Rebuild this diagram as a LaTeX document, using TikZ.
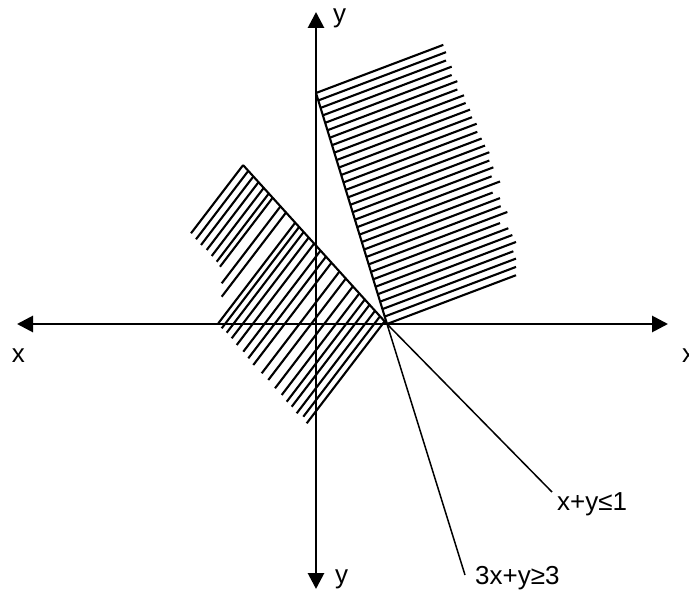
\documentclass[tikz,border=0pt]{standalone}
\usepackage{fontspec}
\setmainfont{Liberation Sans}
\usetikzlibrary{arrows.meta,calc}
\begin{document}
\begin{tikzpicture}[x=1pt,y=-1pt,
  axis/.style={line width=2.8pt,{Triangle[length=16pt,width=16pt]}-{Triangle[length=16pt,width=16pt]}},
  hatch/.style={line width=2.1pt},
  bound/.style={line width=2.1pt},
  ext/.style={line width=1.5pt},
  lbl/.style={inner sep=0pt,font=\fontsize{26}{31}\selectfont}]
\useasboundingbox (0,0) rectangle (689,591);
% axes
\coordinate (xl) at (17,324);
\coordinate (xr) at (668,324);
\coordinate (yt) at (316,12);
\coordinate (yb) at (316,589);
\draw[axis] (xl) -- (xr);
\draw[axis] (yb) -- (yt);
% boundary lines
\coordinate (A) at (243,165);
\coordinate (I) at (387,324);
\coordinate (L1e) at (552,492);
\coordinate (B) at (316,93);
\coordinate (L2e) at (465,575);
\draw[bound] (A) -- (I);
\draw[bound] (B) -- (I);
\draw[ext] (I) -- (L1e);
\draw[ext] (I) -- (L2e);
% left hatching (x+y<=1 side)
\foreach \px/\py in {191/233.3,196/239.3,201/245,206.7/250,211.7/256,216.7/261.7,220/266.7,221.7/283.3,221.7/296.7,218.3/323.3,221.7/328.3,226.7/332.7,231.7/338.3,236.7/345,243.3/351.7,248.3/358.3,253.3/365,261.7/373.3,268.3/380,275/388.3,281.7/395,286.7/401.7,291.7/406.7,296.7/413.3,303.3/416.7,306.7/423.3}{
  \coordinate (p) at (\px,\py);
  \coordinate (q) at ($(p)+(60.7,-79.4)$);
  \draw[hatch] (p) -- (intersection of p--q and A--I);
}
% right hatching (3x+y>=3 side)
\foreach \i/\X in {0/430,1/438,2/438,3/455,4/455,5/472,6/472,7/492,8/497,9/510,10/516,11/530,12/532,13/545,14/555,15/568,16/568,17/580,18/575,19/600,20/578,21/600,22/602,23/622,24/600,25/625,26/637,27/648,28/640,29/648,30/648,31/648}{
  \pgfmathsetmacro\sx{316+71*\i/31}
  \pgfmathsetmacro\sy{93+231*\i/31}
  \pgfmathsetmacro\ex{300+\X/3}
  \pgfmathsetmacro\ey{\sy-(\ex-\sx)*0.378}
  \draw[hatch] (\sx,\sy) -- (\ex,\ey);
}
% labels
\node[lbl,anchor=base] (lx) at (18.5,362) {x};
\node[lbl,anchor=base west] (rx) at (682,362) {x};
\node[lbl,anchor=base west] (ty) at (333,23) {y};
\node[lbl,anchor=base west] (by) at (335,583) {y};
\node[lbl,anchor=base west] (l1) at (557,510) {x+y≤1};
\node[lbl,anchor=base west] (l2) at (475,584) {3x+y≥3};
\end{tikzpicture}
\end{document}
